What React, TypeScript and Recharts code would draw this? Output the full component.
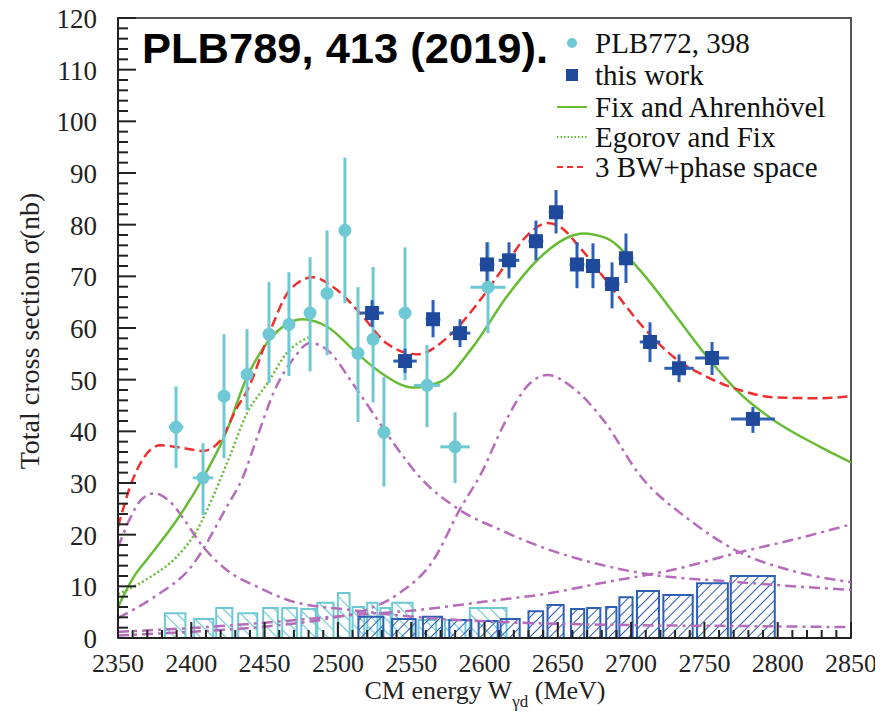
import React from 'react';
import {
  ComposedChart,
  XAxis,
  YAxis,
  Line,
  Scatter,
  ErrorBar,
  ReferenceArea,
  Legend,
} from 'recharts';

const SERIF = '"Liberation Serif", "Times New Roman", Times, serif';
const SANS = '"Liberation Sans", Arial, Helvetica, sans-serif';

const CYAN = '#6fc9d5';
const BLUE = '#1f4a9c';
const BLUE_BAR = '#2d5fb4';
const GREEN = '#68bc35';
const RED = '#ee3030';
const PURPLE = '#b66cba';
const AXIS = '#222';

// ---- axes ----
const xMajorTicks = [2350, 2400, 2450, 2500, 2550, 2600, 2650, 2700, 2750, 2800, 2850];
const yMajorTicks = [0, 10, 20, 30, 40, 50, 60, 70, 80, 90, 100, 110, 120];
const X_MIN = 2350;
const X_MAX = 2850;
const Y_MIN = 0;
const Y_MAX = 120;

const xTicks: number[] = [];
for (let v = X_MIN; v <= X_MAX; v += 10) xTicks.push(v);
const yTicks: number[] = [];
for (let v = Y_MIN; v <= Y_MAX; v += 2) yTicks.push(v);

// ---- PLB772, 398 data points ----
const plbEnergy = [2389.6, 2408, 2422.3, 2438, 2453, 2466.6, 2481, 2492.6, 2504.8, 2513.7, 2524, 2531.4, 2545.8, 2560.8, 2579.9, 2602.4];
const plbSigma = [40.8, 31, 46.8, 51, 58.8, 60.7, 62.9, 66.7, 78.9, 55.1, 57.8, 39.8, 62.9, 48.9, 37, 67.9];
const plbErrLow = [7.9, 7.2, 12, 6.9, 9.5, 10, 11.3, 12, 14.1, 13.3, 12.2, 10.5, 13, 8.1, 7, 8.9];
const plbErrHigh = [7.9, 6.7, 12, 8.8, 10.1, 10.1, 10.8, 12.2, 14.1, 12.8, 14, 10.7, 12.7, 7.8, 6.7, 8.7];
const plbErrE = [5, 7, 4, 4, 4, 4, 4, 4, 4, 4, 4, 4, 4, 9, 10, 12];

// ---- this work data points ----
const workEnergy = [2523.3, 2545.8, 2564.9, 2583.3, 2601.7, 2616.7, 2635.1, 2648.8, 2663.1, 2674, 2687, 2696.5, 2712.9, 2732.7, 2755.2, 2783.1];
const workSigma = [62.9, 53.6, 61.7, 59, 72.3, 73.1, 76.8, 82.4, 72.3, 72, 68.5, 73.5, 57.3, 52.2, 54.2, 42.4];
const workErrLow = [2.7, 2.3, 3.5, 2.7, 3.4, 3.5, 3.7, 4.1, 4.6, 4.3, 4.7, 4.8, 3.9, 2.7, 3.3, 2.7];
const workErrHigh = [2.5, 2.4, 3.7, 2.7, 4.3, 3.5, 4, 4.3, 4.3, 4.4, 4.2, 4.8, 3.8, 2.7, 3.1, 2.3];
const workErrE = [8, 8, 5, 7, 5, 7, 5, 5, 5, 5, 5, 5, 7, 10, 11.5, 15];

// ---- systematic uncertainty histograms: [low edge, high edge] and height ----
const plbSysLo = [2382, 2402, 2417, 2432, 2449, 2462, 2475, 2486, 2500, 2510, 2520, 2529, 2537, 2555, 2573, 2590];
const plbSysHi = [2396, 2415, 2428, 2445, 2459, 2472, 2485, 2497, 2508, 2518, 2527, 2536, 2551, 2567, 2587, 2615];
const plbSysVal = [4.8, 3.7, 5.8, 4.8, 5.8, 5.8, 5.6, 6.8, 8.7, 6, 6.8, 5.8, 6.8, 3.5, 3.5, 5.8];

const workSysLo = [2514, 2537, 2558, 2576, 2596, 2611, 2630, 2643, 2659, 2670, 2683, 2692, 2704, 2722, 2745, 2768];
const workSysHi = [2531, 2553, 2571, 2591, 2609, 2624, 2640, 2654, 2668, 2679, 2690, 2701, 2719, 2742, 2766, 2798];
const workSysVal = [4.1, 3.7, 4.1, 3.5, 3.3, 3.7, 5.2, 6.4, 5.6, 5.8, 6, 7.9, 9.1, 8.3, 10.6, 12];

// ---- model curves ----
const fixEnergy = [2350, 2360, 2372, 2390, 2406, 2423, 2438, 2453, 2466, 2476, 2493, 2513, 2531, 2551, 2570, 2592, 2615, 2638, 2660, 2667, 2683, 2706, 2729, 2752, 2774, 2797, 2829, 2850];
const fixSigma = [6, 11.5, 16, 22.8, 30, 39.3, 50.5, 57.6, 60.9, 61.7, 60.2, 55.1, 51, 48.5, 49.6, 56.3, 66, 73.7, 77.9, 78.3, 77.4, 71.2, 62.9, 54.4, 47.4, 42.2, 37, 34];

const egorovEnergy = [2350, 2372, 2390, 2404, 2415, 2426, 2438, 2452, 2465, 2480];
const egorovSigma = [8.5, 11.8, 15.7, 20.9, 27.5, 35, 43.5, 49.3, 55.1, 58.2];

const bwFitEnergy = [2350, 2360, 2370, 2379, 2394, 2408, 2420, 2431, 2438, 2454, 2467, 2483, 2497, 2515, 2533, 2554, 2576, 2597, 2615, 2629, 2643, 2652, 2665, 2683, 2706, 2729, 2752, 2774, 2797, 2829, 2850];
const bwFitSigma = [21.5, 30.6, 35.8, 37.3, 36.8, 36.2, 38.3, 44.5, 47.8, 59.6, 67.3, 69.8, 67.9, 62.9, 57.1, 54.9, 58.5, 65.4, 72.5, 77.9, 80.3, 79.5, 75.6, 69.2, 60.9, 54.4, 50.5, 48, 46.6, 46.4, 46.8];

const bw1Energy = [2350, 2358, 2366, 2375, 2385, 2395, 2406, 2424, 2445, 2470, 2510, 2560, 2620, 2700, 2780, 2850];
const bw1Sigma = [17.5, 23, 26.8, 28, 26.5, 23, 18.4, 13.2, 9.9, 7, 5.4, 3.9, 3, 2.5, 2.3, 2.1];

const bw2Energy = [2350, 2375, 2400, 2424, 2435, 2445, 2456, 2469, 2481, 2493, 2510, 2524, 2538, 2556, 2583, 2611, 2640, 2672, 2706, 2774, 2850];
const bw2Sigma = [3.9, 8, 13.8, 25.3, 31, 38.9, 47.4, 53.8, 57.1, 55.7, 49.3, 43.5, 37.7, 31.1, 24.8, 20.9, 17.5, 14.7, 12.6, 10.8, 9.3];

const bw3Energy = [2350, 2400, 2450, 2490, 2520, 2542, 2565, 2583, 2598, 2613, 2631, 2643, 2660, 2681, 2706, 2740, 2774, 2810, 2850];
const bw3Sigma = [0.5, 1.2, 2.2, 3.6, 5.5, 8.7, 15, 24.8, 32, 41.2, 49.3, 50.9, 48.5, 42.2, 31.5, 22.8, 16.6, 13, 10.8];

const phaseEnergy = [2350, 2420, 2460, 2508, 2554, 2599, 2645, 2679, 2730, 2774, 2810, 2850];
const phaseSigma = [1.2, 2.3, 3.2, 4.4, 5.4, 7, 8.7, 10.6, 13.3, 16.6, 19, 22];

const legendLabels = ['PLB772, 398', 'this work', 'Fix and Ahrenhövel', 'Egorov and Fix', '3 BW+phase space'];

const curve = (es: number[], ss: number[]) => es.map((e, i) => ({ x: e, y: ss[i] }));

const plbPoints = plbEnergy.map((e, i) => ({
  x: e,
  y: plbSigma[i],
  ex: plbErrE[i],
  ey: [plbErrLow[i], plbErrHigh[i]],
}));
const workPoints = workEnergy.map((e, i) => ({
  x: e,
  y: workSigma[i],
  ex: workErrE[i],
  ey: [workErrLow[i], workErrHigh[i]],
}));

const serifStyle = { fontFamily: SERIF };

const XTick = (props: any) => {
  const { x, y, payload } = props;
  const v = payload.value;
  const major = xMajorTicks.includes(v);
  return (
    <g>
      <line x1={x} x2={x} y1={y} y2={y - (major ? 16 : 8)} stroke={AXIS} strokeWidth={2} />
      {major && (
        <text x={x} y={y + 34} textAnchor="middle" fontFamily={SERIF} style={serifStyle} fontSize={26} fill={AXIS}>
          {v}
        </text>
      )}
    </g>
  );
};

const YTick = (props: any) => {
  const { x, y, payload } = props;
  const v = payload.value;
  const major = yMajorTicks.includes(v);
  return (
    <g>
      <line x1={x} x2={x + (major ? 18 : 10)} y1={y} y2={y} stroke={AXIS} strokeWidth={2} />
      {major && (
        <text x={x - 21} y={y + 10} textAnchor="end" fontFamily={SERIF} style={serifStyle} fontSize={27} fill={AXIS}>
          {v}
        </text>
      )}
    </g>
  );
};

const CircleDot = (props: any) => <circle cx={props.cx} cy={props.cy} r={6.5} fill={CYAN} />;
const SquareDot = (props: any) => (
  <rect x={props.cx - 7} y={props.cy - 7} width={14} height={14} fill={BLUE} />
);

const LegendBox = () => {
  const rowY = [23, 55, 87, 117, 147];
  return (
    <svg width={320} height={170} style={{ display: 'block', overflow: 'visible' }}>
      <circle cx={22} cy={rowY[0]} r={5} fill={CYAN} />
      <rect x={16} y={rowY[1] - 6} width={12} height={12} fill={BLUE} />
      <line x1={7} x2={37} y1={rowY[2]} y2={rowY[2]} stroke={GREEN} strokeWidth={2} />
      <line x1={7} x2={37} y1={rowY[3]} y2={rowY[3]} stroke={GREEN} strokeWidth={2} strokeDasharray="1.5 2" />
      <line x1={7} x2={37} y1={rowY[4]} y2={rowY[4]} stroke={RED} strokeWidth={2} strokeDasharray="6 4" />
      {legendLabels.map((label, i) => (
        <text key={label} x={45} y={rowY[i] + 10} fontFamily={SERIF} style={serifStyle} fontSize={29} fill="#111">
          {label}
        </text>
      ))}
    </svg>
  );
};

export default function App() {
  return (
    <div style={{ width: 870, height: 714, position: 'relative', marginTop: -8 }}>
      <ComposedChart
        width={870}
        height={714}
        margin={{ top: 18, right: 27, bottom: 46, left: 50 }}
      >
        <defs>
          <pattern id="hatchCyan" patternUnits="userSpaceOnUse" width={9} height={9} patternTransform="rotate(-45)">
            <line x1={0} y1={0} x2={0} y2={9} stroke={CYAN} strokeWidth={2.4} />
          </pattern>
          <pattern id="hatchBlue" patternUnits="userSpaceOnUse" width={7} height={7} patternTransform="rotate(45)">
            <line x1={0} y1={0} x2={0} y2={7} stroke={BLUE_BAR} strokeWidth={2} />
          </pattern>
        </defs>
        <XAxis
          type="number"
          dataKey="x"
          domain={[X_MIN, X_MAX]}
          ticks={xTicks}
          interval={0}
          allowDataOverflow
          tickSize={0}
          tickMargin={0}
          tickLine={false}
          tick={XTick}
          axisLine={{ stroke: AXIS, strokeWidth: 2 }}
          height={30}
        />
        <YAxis
          type="number"
          dataKey="y"
          domain={[Y_MIN, Y_MAX]}
          ticks={yTicks}
          interval={0}
          allowDataOverflow
          tickSize={0}
          tickMargin={0}
          tickLine={false}
          tick={YTick}
          axisLine={{ stroke: AXIS, strokeWidth: 2 }}
          width={60}
        />
        <ReferenceArea x1={X_MIN} x2={X_MAX} y1={Y_MIN} y2={Y_MAX} fill="none" stroke="#555" strokeWidth={2} />

        {plbSysLo.map((lo, i) => (
          <ReferenceArea
            key={`plb-sys-${i}`}
            x1={lo}
            x2={plbSysHi[i]}
            y1={0}
            y2={plbSysVal[i]}
            fill="url(#hatchCyan)"
            fillOpacity={1}
            stroke={CYAN}
            strokeWidth={2}
          />
        ))}
        {workSysLo.map((lo, i) => (
          <ReferenceArea
            key={`work-sys-${i}`}
            x1={lo}
            x2={workSysHi[i]}
            y1={0}
            y2={workSysVal[i]}
            fill="url(#hatchBlue)"
            fillOpacity={1}
            stroke={BLUE_BAR}
            strokeWidth={2}
          />
        ))}

        <Line data={curve(bw1Energy, bw1Sigma)} dataKey="y" type="monotone" stroke={PURPLE} strokeWidth={2.5} strokeDasharray="11 5 3 5" dot={false} activeDot={false} isAnimationActive={false} />
        <Line data={curve(bw2Energy, bw2Sigma)} dataKey="y" type="monotone" stroke={PURPLE} strokeWidth={2.5} strokeDasharray="11 5 3 5" dot={false} activeDot={false} isAnimationActive={false} />
        <Line data={curve(bw3Energy, bw3Sigma)} dataKey="y" type="monotone" stroke={PURPLE} strokeWidth={2.5} strokeDasharray="11 5 3 5" dot={false} activeDot={false} isAnimationActive={false} />
        <Line data={curve(phaseEnergy, phaseSigma)} dataKey="y" type="monotone" stroke={PURPLE} strokeWidth={2.5} strokeDasharray="11 5 3 5" dot={false} activeDot={false} isAnimationActive={false} />
        <Line data={curve(egorovEnergy, egorovSigma)} dataKey="y" type="monotone" stroke={GREEN} strokeWidth={2.5} strokeDasharray="2 2.5" dot={false} activeDot={false} isAnimationActive={false} />
        <Line data={curve(fixEnergy, fixSigma)} dataKey="y" type="monotone" stroke={GREEN} strokeWidth={2.5} dot={false} activeDot={false} isAnimationActive={false} />
        <Line data={curve(bwFitEnergy, bwFitSigma)} dataKey="y" type="monotone" stroke={RED} strokeWidth={2.5} strokeDasharray="10 5" dot={false} activeDot={false} isAnimationActive={false} />

        <Scatter data={plbPoints} shape={CircleDot} isAnimationActive={false}>
          <ErrorBar dataKey="ex" direction="x" width={0} stroke={CYAN} strokeWidth={3} />
          <ErrorBar dataKey="ey" direction="y" width={0} stroke={CYAN} strokeWidth={3} />
        </Scatter>
        <Scatter data={workPoints} shape={SquareDot} isAnimationActive={false}>
          <ErrorBar dataKey="ex" direction="x" width={0} stroke={BLUE_BAR} strokeWidth={3} />
          <ErrorBar dataKey="ey" direction="y" width={0} stroke={BLUE_BAR} strokeWidth={3} />
        </Scatter>

        <Legend
          layout="vertical"
          align="center"
          verticalAlign="middle"
          wrapperStyle={{ left: 542, top: 20, width: 320, height: 170 }}
          content={() => <LegendBox />}
        />

        <text x={134} y={63} fontFamily={SANS} style={{ fontFamily: SANS }} fontWeight="bold" fontSize={42} fill="#000" textLength={406} lengthAdjust="spacingAndGlyphs">
          PLB789, 413 (2019).
        </text>
        <text x={477} y={699} textAnchor="middle" fontFamily={SERIF} style={serifStyle} fontSize={26} fill={AXIS}>
          CM energy W
          <tspan fontSize={17} dy={8}>γd</tspan>
          <tspan dy={-8}> (MeV)</tspan>
        </text>
        <text
          x={0}
          y={0}
          transform="translate(31, 331) rotate(-90)"
          textAnchor="middle"
          fontFamily={SERIF}
          style={serifStyle}
          fontSize={28}
          fill={AXIS}
        >
          Total cross section σ(nb)
        </text>
      </ComposedChart>
    </div>
  );
}
